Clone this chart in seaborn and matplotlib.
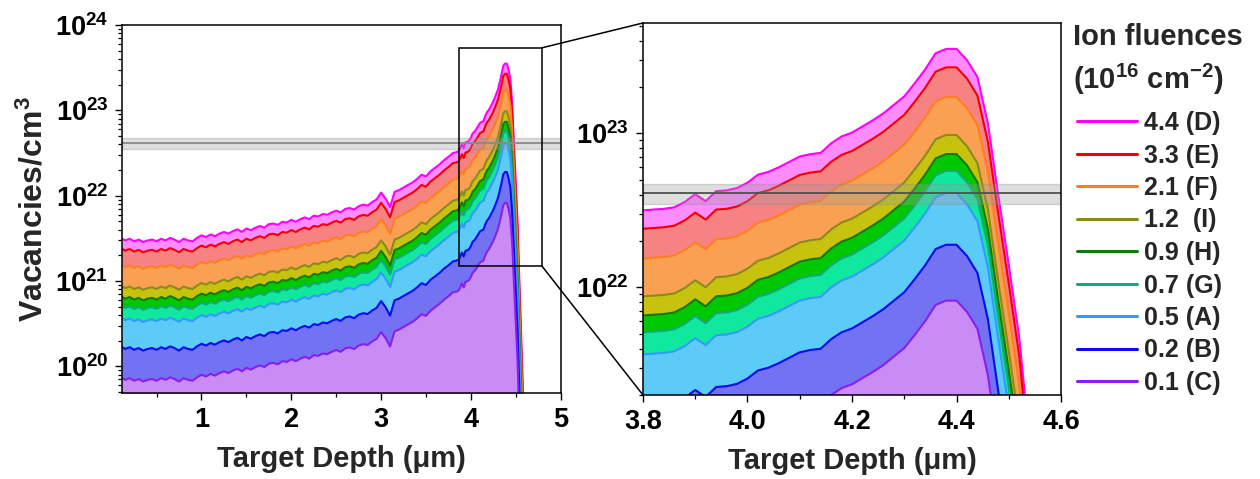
import numpy as np
import pandas as pd
import matplotlib
matplotlib.use("Agg")
import matplotlib.pyplot as plt
from matplotlib.ticker import LogLocator, NullFormatter, MultipleLocator, FuncFormatter
from matplotlib.patches import Rectangle, ConnectionPatch
import seaborn as sns

# ---------------------------------------------------------------------------
# SRIM damage profile: target depth (um) and vacancies per ion per Angstrom
# ---------------------------------------------------------------------------
depth_um = [
    0.10, 0.15, 0.20, 0.25, 0.30, 0.35, 0.40, 0.45, 0.50, 0.55,
    0.60, 0.65, 0.70, 0.75, 0.80, 0.85, 0.90, 0.95, 1.00, 1.05,
    1.10, 1.15, 1.20, 1.25, 1.30, 1.35, 1.40, 1.45, 1.50, 1.55,
    1.60, 1.65, 1.70, 1.75, 1.80, 1.85, 1.90, 1.95, 2.00, 2.05,
    2.10, 2.15, 2.20, 2.25, 2.30, 2.35, 2.40, 2.45, 2.50, 2.55,
    2.60, 2.65, 2.70, 2.75, 2.80, 2.85, 2.90, 2.95, 3.00, 3.05,
    3.10, 3.15, 3.20, 3.25, 3.30, 3.35, 3.40, 3.45, 3.50, 3.55,
    3.60, 3.65, 3.70, 3.75, 3.80,
    3.82, 3.84, 3.86, 3.88, 3.90, 3.92, 3.94, 3.96, 3.98, 4.00,
    4.02, 4.04, 4.06, 4.08, 4.10, 4.12, 4.14, 4.16, 4.18, 4.20,
    4.22, 4.24, 4.26, 4.28, 4.30, 4.32, 4.34, 4.36, 4.38, 4.40,
    4.42, 4.44, 4.46, 4.48, 4.50, 4.52, 4.54, 4.56, 4.58, 4.60,
]

vac_per_ion_A = [
    7.19e-4, 6.71e-4, 7.02e-4, 6.55e-4, 6.86e-4, 6.41e-4, 6.71e-4, 6.86e-4, 6.55e-4, 7.02e-4,
    6.71e-4, 7.19e-4, 6.86e-4, 6.41e-4, 7.02e-4, 6.71e-4, 6.55e-4, 7.19e-4, 7.70e-4, 7.35e-4,
    7.88e-4, 7.52e-4, 8.06e-4, 8.44e-4, 8.06e-4, 8.64e-4, 9.05e-4, 8.44e-4, 9.26e-4, 8.84e-4,
    9.47e-4, 9.92e-4, 9.47e-4, 1.04e-3, 1.06e-3, 1.02e-3, 1.11e-3, 1.09e-3, 1.17e-3, 1.11e-3,
    1.19e-3, 1.25e-3, 1.19e-3, 1.31e-3, 1.28e-3, 1.37e-3, 1.34e-3, 1.43e-3, 1.50e-3, 1.43e-3,
    1.57e-3, 1.61e-3, 1.54e-3, 1.69e-3, 1.76e-3, 1.72e-3, 1.89e-3, 2.03e-3, 2.44e-3, 2.07e-3,
    1.65e-3, 2.49e-3, 2.61e-3, 2.80e-3, 3.00e-3, 3.21e-3, 3.52e-3, 3.95e-3, 3.77e-3, 4.33e-3,
    4.75e-3, 5.21e-3, 5.84e-3, 6.41e-3, 7.11e-3,
    7.19e-3, 7.27e-3, 7.44e-3, 8.06e-3, 9.05e-3, 8.15e-3, 9.47e-3, 9.58e-3, 9.92e-3, 1.075e-2,
    1.212e-2, 1.263e-2, 1.353e-2, 1.467e-2, 1.590e-2, 1.646e-2, 1.677e-2, 1.934e-2, 2.145e-2, 2.272e-2,
    2.492e-2, 2.733e-2, 3.030e-2, 3.440e-2, 3.905e-2, 4.749e-2, 5.843e-2, 7.44e-2, 7.94e-2, 7.94e-2,
    6.71e-2, 5.21e-2, 2.61e-2, 8.84e-3, 3.14e-3, 1.063e-3, 2.17e-4, 5.09e-5, 1.09e-5, 1.81e-6,
]

# Ion fluences (units of 1e16 ions/cm^2) with sample letters
fluences = [4.4, 3.3, 2.1, 1.2, 0.9, 0.7, 0.5, 0.2, 0.1]
samples = ["D", "E", "F", "I", "H", "G", "A", "B", "C"]
legend_labels = ["4.4 (D)", "3.3 (E)", "2.1 (F)", "1.2  (I)", "0.9 (H)",
                 "0.7 (G)", "0.5 (A)", "0.2 (B)", "0.1 (C)"]

# Peak vacancy concentration of each sample (vacancies/cm^3)
peak_vacancies = [3.53e23, 2.68e23, 1.72e23, 9.75e22, 7.33e22,
                  5.70e22, 4.10e22, 1.89e22, 8.20e21]

# Amorphisation threshold and its uncertainty band (vacancies/cm^3)
threshold = 4.1e22
threshold_band = (3.5e22, 4.7e22)

# Styling
line_colors = ["#FF00FF", "#F20000", "#FF7F1E", "#8A8A1E", "#137A13",
               "#14A87A", "#3399FF", "#0A0AEE", "#8A1EF0"]
fill_colors = ["#FF8CFF", "#F78282", "#F9A052", "#C6C20E", "#00C800",
               "#10E8A0", "#5CCBF8", "#7272F2", "#C88CF4"]

# Long-form table: the common depth profile scaled to each sample's peak
profile = np.asarray(vac_per_ion_A)
shape = profile / profile.max()
rows = []
for lab, pk in zip(legend_labels, peak_vacancies):
    for d, s in zip(depth_um, shape):
        rows.append({"depth": d, "vacancies": s * pk, "fluence": lab})
df = pd.DataFrame(rows)

sns.set_style("ticks")
plt.rcParams.update({
    "font.family": ["Liberation Sans", "DejaVu Sans"],
    "font.weight": "bold",
    "axes.labelweight": "bold",
    "mathtext.fontset": "custom",
    "mathtext.rm": "Liberation Sans:bold",
    "mathtext.bf": "Liberation Sans:bold",
    "mathtext.it": "Liberation Sans:bold",
    "axes.linewidth": 1.1,
    "axes.edgecolor": "black",
    "xtick.color": "black",
    "ytick.color": "black",
})

fig = plt.figure(figsize=(12.6, 4.79), dpi=100)
axL = fig.add_axes([0.0972, 0.1802, 0.3478, 0.7676])
axR = fig.add_axes([0.5103, 0.1754, 0.3318, 0.7766])

FLOOR = 1e18
handles = []
for ax in (axL, axR):
    for i, lab in enumerate(legend_labels):
        sub = df[df["fluence"] == lab]
        z = 2 + 2 * i
        ax.fill_between(sub["depth"], FLOOR, sub["vacancies"],
                        color=fill_colors[i], lw=0, zorder=z)
        sns.lineplot(data=sub, x="depth", y="vacancies", color=line_colors[i],
                     lw=1.5, estimator=None, sort=False, ax=ax, zorder=z + 1,
                     legend=False)
        if ax is axL:
            handles.append(ax.lines[-1])
    ax.set_yscale("log")
    ax.axhspan(*threshold_band, facecolor="#9A9A9A", alpha=0.32,
               edgecolor="#8A8A8A", lw=1.0, zorder=40)
    ax.axhline(threshold, color="#505050" if ax is axR else "#8A8A8A",
               lw=1.3, zorder=41)

pow_fmt = FuncFormatter(lambda v, p: r"$\mathbf{10^{%d}}$" % round(np.log10(v)))

axL.set_xlim(0.12, 5.0)
axL.set_ylim(4.9e19, 1e24)
axL.xaxis.set_major_locator(MultipleLocator(1))
axL.xaxis.set_minor_locator(MultipleLocator(0.5))

axR.set_xlim(3.8, 4.6)
axR.set_ylim(2.0e21, 5.2e23)
axR.xaxis.set_major_locator(MultipleLocator(0.2))
axR.xaxis.set_minor_locator(MultipleLocator(0.1))
axR.xaxis.set_major_formatter(FuncFormatter(lambda v, p: f"{v:.1f}"))

for ax in (axL, axR):
    ax.yaxis.set_major_locator(LogLocator(base=10, numticks=10))
    ax.yaxis.set_minor_locator(LogLocator(base=10, subs=np.arange(2, 10), numticks=20))
    ax.yaxis.set_major_formatter(pow_fmt)
    ax.yaxis.set_minor_formatter(NullFormatter())
    ax.tick_params(which="major", direction="out", length=5, width=1.0,
                   labelsize=19.5, pad=5)
    ax.tick_params(which="minor", direction="out", length=3, width=0.9)
    for s in ax.spines.values():
        s.set_visible(True)
        s.set_linewidth(1.1)
        s.set_zorder(60)
    ax.set_xlabel("Target Depth (\u03bcm)", fontsize=21, fontweight="bold", labelpad=9)

axL.set_ylabel(r"Vacancies/cm$^{\mathbf{3}}$", fontsize=23, fontweight="bold", labelpad=4)
axR.set_ylabel("")

# Zoom indicator on the overview panel and connectors to the detail panel
zx0, zx1, zy0, zy1 = 3.87, 4.79, 1.5e21, 5.4e23
axL.add_patch(Rectangle((zx0, zy0), zx1 - zx0, zy1 - zy0, fill=False,
                        edgecolor="black", lw=1.1, zorder=70))
for yA, yB in ((zy1, 1.0), (zy0, 0.0)):
    con = ConnectionPatch(xyA=(zx1, yA), coordsA=axL.transData,
                          xyB=(0.0, yB), coordsB=axR.transAxes,
                          color="black", lw=1.1)
    fig.add_artist(con)

# Legend heading and entries
fig.text(1073 / 1260, 1 - 45 / 479, "Ion fluences", ha="left", va="baseline",
         fontsize=21, fontweight="bold")
fig.text(1073 / 1260, 1 - 89 / 479, "(10$^{\\mathbf{16}}$ cm$^{\\mathbf{-2}}$)",
         ha="left", va="baseline", fontsize=21, fontweight="bold")
leg = fig.legend(handles=handles, labels=legend_labels, loc="upper left",
                 bbox_to_anchor=(1077 / 1260, 1 - 111 / 479),
                 bbox_transform=fig.transFigure, frameon=False,
                 handlelength=2.4, handletextpad=0.3,
                 labelspacing=0.34, borderpad=0, borderaxespad=0,
                 prop={"weight": "bold", "size": 18})
for h in leg.legend_handles:
    h.set_linewidth(2.2)

fig.savefig("out.png", dpi=100)
